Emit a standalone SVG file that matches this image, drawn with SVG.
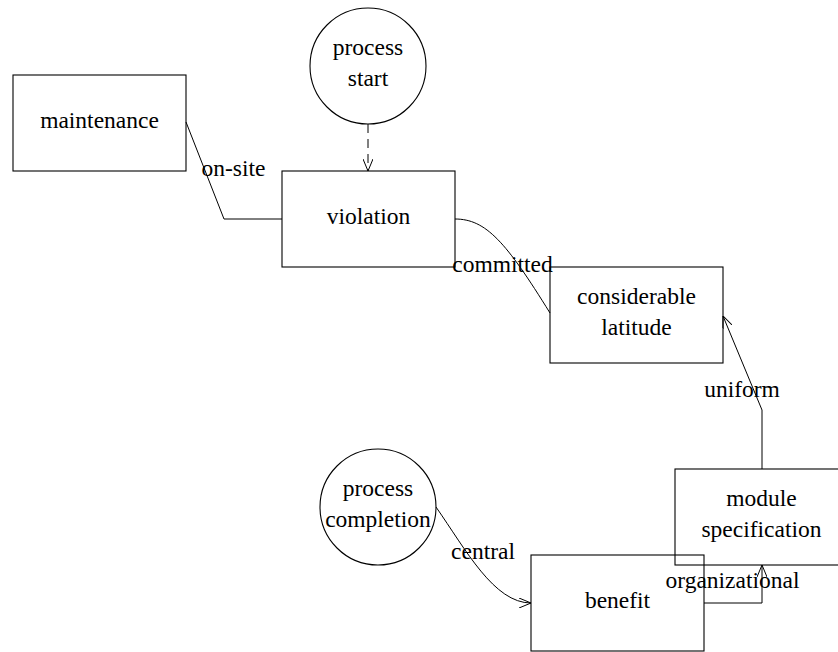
<svg xmlns="http://www.w3.org/2000/svg" width="838" height="652" viewBox="0 0 838 652">
<style>
.box{fill:none;stroke:#000;stroke-width:1.1}
.t{font-family:"Liberation Serif","Times New Roman",serif;font-size:23.5px;fill:#000;text-anchor:middle}
.c{fill:none;stroke:#000;stroke-width:1}
</style>
<defs>
<marker id="arr" viewBox="0 0 12 10" refX="12" refY="5" markerWidth="12" markerHeight="10" markerUnits="userSpaceOnUse" orient="auto">
<path d="M0,0 L12,5 L0,10" fill="none" stroke="#000" stroke-width="1"/>
</marker>
</defs>
<rect width="838" height="652" fill="#fff"/>
<g id="connectors">
<path class="c" d="M186,122 L224,219 L282,219"/>
<text class="t" x="233.5" y="176">on-site</text>
<path class="c" d="M368,124 L368,171" stroke-dasharray="9,6" marker-end="url(#arr)"/>
<path class="c" d="M455,219 C486,219 506,242 550,313"/>
<text class="t" x="502.5" y="272">committed</text>
<path class="c" d="M762,469 L762,410 L723,316" marker-end="url(#arr)"/>
<text class="t" x="742" y="397">uniform</text>
<path class="c" d="M704,603 L762,603 L762,565" marker-end="url(#arr)"/>
<text class="t" x="732.5" y="588">organizational</text>
<path class="c" d="M436,507 C466,550 494,603 531,603" marker-end="url(#arr)"/>
<text class="t" x="483" y="559">central</text>
</g>
<g id="maintenance">
<rect class="box" x="13" y="75" width="173" height="96"/>
<text class="t" x="99.5" y="128">maintenance</text>
</g>
<g id="process_start">
<circle class="box" cx="368" cy="66" r="58"/>
<text class="t" x="368" y="55">process</text>
<text class="t" x="368" y="86">start</text>
</g>
<g id="violation">
<rect class="box" x="282" y="171" width="173" height="96"/>
<text class="t" x="368.5" y="224">violation</text>
</g>
<g id="considerable_latitude">
<rect class="box" x="550" y="267" width="173" height="96"/>
<text class="t" x="636.5" y="304">considerable</text>
<text class="t" x="636.5" y="335">latitude</text>
</g>
<g id="module_specification">
<rect class="box" x="675" y="469" width="173" height="96"/>
<text class="t" x="761.5" y="506">module</text>
<text class="t" x="761.5" y="537">specification</text>
</g>
<g id="process_completion">
<circle class="box" cx="378" cy="507" r="58"/>
<text class="t" x="378" y="496">process</text>
<text class="t" x="378" y="527">completion</text>
</g>
<g id="benefit">
<rect class="box" x="531" y="555" width="173" height="96"/>
<text class="t" x="617.5" y="608">benefit</text>
</g>
</svg>
